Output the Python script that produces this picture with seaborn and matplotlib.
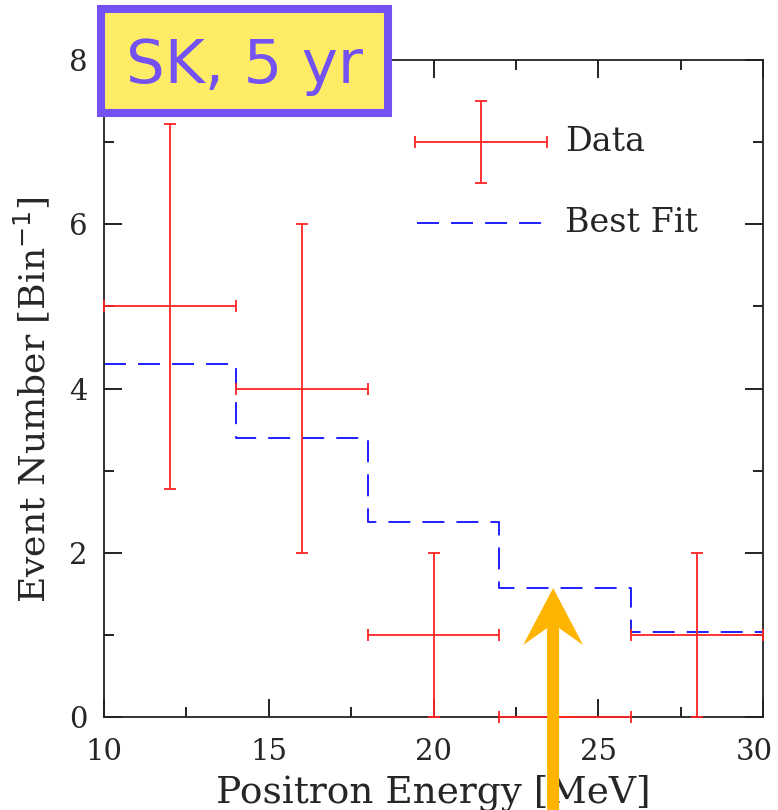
import numpy as np
import pandas as pd
import matplotlib
matplotlib.use("Agg")
import matplotlib.pyplot as plt
import matplotlib.transforms as mtransforms
import seaborn as sns
from matplotlib.patches import Rectangle, Polygon
from matplotlib.ticker import MultipleLocator

# Measured event counts per 4 MeV bin
bin_centers = [12, 16, 20, 24, 28]
bin_halfwidth = [2, 2, 2, 2, 2]
events = [5, 4, 1, 0, 1]
err_low = [2.22, 2, 1, 0, 1]
err_high = [2.22, 2, 1, 0, 1]

# Best-fit expectation per bin
bin_edges = [10, 14, 18, 22, 26, 30]
fit_values = [4.3, 3.4, 2.37, 1.57, 1.03]

x_ticks = [10, 15, 20, 25, 30]
y_ticks = [0, 2, 4, 6, 8]

RED = "#ff2424"
BLUE = "#1f1fff"
PURPLE = "#7452f2"
YELLOW = "#ffec66"
ORANGE = "#ffb400"

sns.set_style("ticks")
plt.rcParams["font.family"] = ["DejaVu Serif"]

fig = plt.figure(figsize=(7.78, 8.10), dpi=100)
ax = fig.add_axes([104 / 778, 1 - 717 / 810, 659 / 778, 657 / 810])

# Best-fit histogram as a dashed step line
fit_df = pd.DataFrame({"energy": bin_edges, "count": fit_values + [fit_values[-1]]})
dash = (0, (11.3, 6.2))
sns.lineplot(data=fit_df, x="energy", y="count", drawstyle="steps-post",
             estimator=None, color=BLUE, lw=1.4, linestyle=dash, ax=ax)

# Data points with energy-bin widths and statistical errors
ax.errorbar(bin_centers, events, xerr=bin_halfwidth, yerr=[err_low, err_high],
            fmt="none", ecolor=RED, elinewidth=1.3, capsize=4, capthick=1.3,
            clip_on=False, zorder=3)

# Legend samples
ax.errorbar([21.45], [7.0], xerr=[2.0], yerr=[0.5], fmt="none", ecolor=RED,
            elinewidth=1.3, capsize=4, capthick=1.3)
ax.plot([19.5, 23.5], [6.02, 6.02], color=BLUE, lw=1.4, linestyle=dash)
ax.text(24.0, 7.0, "Data", fontsize=24, va="center", ha="left")
ax.text(24.0, 6.02, "Best Fit", fontsize=24, va="center", ha="left")

ax.set_xlim(10, 30)
ax.set_ylim(0, 8)
ax.set_xticks(x_ticks)
ax.set_yticks(y_ticks)
ax.xaxis.set_minor_locator(MultipleLocator(2.5))
ax.yaxis.set_minor_locator(MultipleLocator(1))
ax.tick_params(which="both", direction="in", top=True, right=True,
               color="#111111", width=1.3)
ax.tick_params(which="major", length=13)
ax.tick_params(which="minor", length=7)
ax.tick_params(axis="x", labelsize=21, pad=15)
ax.tick_params(axis="y", labelsize=21, pad=12)
for sp in ax.spines.values():
    sp.set_linewidth(1.3)
    sp.set_color("#222222")

ax.set_xlabel("Positron Energy [MeV]", fontsize=27, labelpad=6)
ax.set_ylabel("Event Number [Bin$^{-1}$]", fontsize=26)
ax.yaxis.set_label_coords(-0.078, 0.4825)
ax.grid(False)

# keep the rightmost energy label inside the canvas
last = ax.get_xticklabels()[-1]
last.set_transform(last.get_transform() +
                   mtransforms.ScaledTranslation(-6 / 72, 0, fig.dpi_scale_trans))

# Arrow pointing at the best-fit level of the 22-26 MeV bin
fig.canvas.draw()
tx, ty = ax.transData.transform((23.63, fit_values[3]))
arrow_pts = [
    (tx, ty),
    (tx + 30, ty - 57),
    (tx + 6, ty - 40),
    (tx + 6, 0),
    (tx - 6, 0),
    (tx - 6, ty - 40),
    (tx - 30, ty - 57),
]
fig.patches.append(Polygon(arrow_pts, closed=True, transform=None,
                           facecolor=ORANGE, edgecolor="none", zorder=5))

# Title box
fig.patches.append(Rectangle((101 / 778, 697 / 810), 287 / 778, 104 / 810,
                             transform=fig.transFigure, facecolor=YELLOW,
                             edgecolor=PURPLE, linewidth=5.8, zorder=4))
fig.text(245 / 778, 727 / 810, "SK, 5 yr", fontsize=44, color=PURPLE,
         family="DejaVu Sans", ha="center", va="baseline", zorder=6)

fig.savefig("out.png", dpi=100)
